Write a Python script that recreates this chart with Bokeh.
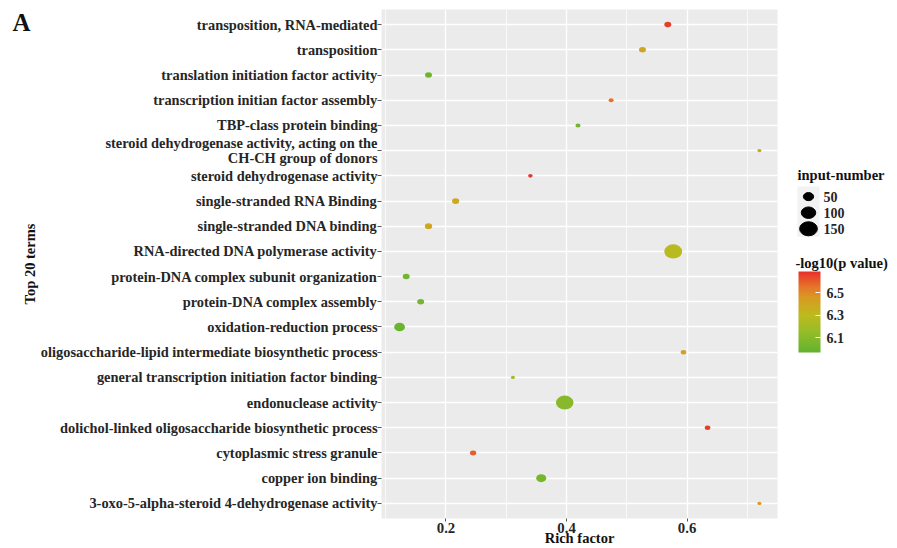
import numpy as np
from bokeh.plotting import figure
from bokeh.models import (ColumnDataSource, FactorRange, Range1d, FixedTicker,
                          LinearColorMapper, ColorBar, Label)
from bokeh.layouts import row
from bokeh.embed import file_html
from bokeh.resources import INLINE
from bokeh.core.properties import value

# ---------------- data (top to bottom as in the chart) ----------------
terms = [
    "transposition, RNA-mediated",
    "transposition",
    "translation initiation factor activity",
    "transcription initian factor assembly",
    "TBP-class protein binding",
    "steroid dehydrogenase activity, acting on the\nCH-CH group of donors",
    "steroid dehydrogenase activity",
    "single-stranded RNA Binding",
    "single-stranded DNA binding",
    "RNA-directed DNA polymerase activity",
    "protein-DNA complex subunit organization",
    "protein-DNA complex assembly",
    "oxidation-reduction process",
    "oligosaccharide-lipid intermediate biosynthetic process",
    "general transcription initiation factor binding",
    "endonuclease activity",
    "dolichol-linked oligosaccharide biosynthetic process",
    "cytoplasmic stress granule",
    "copper ion binding",
    "3-oxo-5-alpha-steroid 4-dehydrogenase activity",
]
rich_factor = [0.568, 0.526, 0.171, 0.474, 0.419, 0.720, 0.340, 0.216, 0.171, 0.577,
               0.134, 0.158, 0.123, 0.594, 0.311, 0.397, 0.634, 0.245, 0.358, 0.720]
input_number = [23, 23, 23, 12, 12, 8, 10, 25, 25, 152,
                23, 23, 56, 15, 8, 148, 15, 19, 48, 8]
neg_log10_p = [6.66, 6.40, 6.02, 6.56, 6.03, 6.42, 6.68, 6.38, 6.40, 6.28,
               6.03, 6.04, 6.00, 6.43, 6.18, 6.10, 6.66, 6.60, 6.04, 6.45]

x_ticks = [0.2, 0.4, 0.6]
x_minor_ticks = [0.1, 0.3, 0.5, 0.7]
size_breaks = [50, 100, 150]
size_labels = ["50", "100", "150"]
color_breaks = [6.1, 6.3, 6.5]
color_low, color_high = 5.97, 6.69

FONT = "Liberation Serif"
TEXT_COL = "#262626"

# ---------------- colour scale (green -> yellow -> red) ----------------
stops = [(0.00, (98, 178, 47)), (0.25, (150, 188, 40)), (0.46, (189, 186, 30)),
         (0.67, (216, 155, 34)), (0.81, (229, 118, 42)), (1.00, (232, 48, 42))]


def _interp(t):
    for (t0, c0), (t1, c1) in zip(stops[:-1], stops[1:]):
        if t <= t1:
            f = (t - t0) / (t1 - t0)
            return "#%02x%02x%02x" % tuple(int(round(a + (b - a) * f)) for a, b in zip(c0, c1))
    return "#%02x%02x%02x" % stops[-1][1]


palette = [_interp(i / 255) for i in range(256)]
mapper = LinearColorMapper(palette=palette, low=color_low, high=color_high)


def size_w(n):
    return [1.45 * np.sqrt(v) for v in n]


def size_h(n):
    return [1.15 * np.sqrt(v) for v in n]


src = ColumnDataSource(dict(term=terms, rich=rich_factor, n=input_number, p=neg_log10_p,
                            w=size_w(input_number), h=size_h(input_number)))

# ---------------- main panel ----------------
p = figure(width=782, height=548,
           x_range=Range1d(0.093, 0.750),
           y_range=FactorRange(factors=terms[::-1], range_padding=0.1,
                               range_padding_units="absolute"),
           output_backend="svg", toolbar_location=None,
           min_border_left=378, min_border_right=5, min_border_top=9, min_border_bottom=0)
p.background_fill_color = "#EBEBEB"
p.border_fill_color = "white"
p.outline_line_color = None

p.ellipse(x="rich", y="term", width="w", height="h", width_units="screen",
          height_units="screen", source=src, line_color=None,
          fill_color={"field": "p", "transform": mapper})

p.xaxis.ticker = FixedTicker(ticks=x_ticks, minor_ticks=x_minor_ticks)
p.xgrid.grid_line_color = "white"
p.xgrid.grid_line_width = 1.3
p.xgrid.minor_grid_line_color = "white"
p.xgrid.minor_grid_line_width = 0.7
p.ygrid.grid_line_color = "white"
p.ygrid.grid_line_width = 1.3

for ax in (p.xaxis[0], p.yaxis[0]):
    ax.axis_line_color = None
    ax.major_tick_line_color = "#555555"
    ax.major_tick_out = 4
    ax.major_tick_in = 0
    ax.minor_tick_line_color = None
    ax.major_label_text_font = FONT
    ax.major_label_text_font_style = "bold"
    ax.major_label_text_font_size = "14.4px"
    ax.major_label_text_color = TEXT_COL
    ax.major_label_text_line_height = 0.95
    ax.axis_label_text_font = FONT
    ax.axis_label_text_font_style = "bold"
    ax.axis_label_text_font_size = "14.5px"
    ax.axis_label_text_color = "#111111"

p.xaxis.axis_label = "Rich factor"
p.xaxis.major_label_text_font_size = "14.8px"
p.xaxis.major_label_standoff = 0
p.xaxis.axis_label_standoff = -6
p.xaxis.major_tick_out = 3
p.yaxis.axis_label = "Top 20 terms"
p.yaxis.major_label_standoff = 0
p.yaxis.axis_label_standoff = 0

p.add_layout(Label(x=12, y=496, x_units="screen", y_units="screen", text="A",
                   text_font=FONT, text_font_style="bold", text_font_size="25px",
                   text_baseline="middle", text_color="#111111"), "left")

# ---------------- legends ----------------
# (the legend figure's frame is aligned with the main frame)
leg = figure(width=115, height=548, x_range=Range1d(0, 115), y_range=Range1d(517, 11),
             x_axis_type=None, y_axis_type=None, output_backend="svg",
             toolbar_location=None, min_border=0)
leg.outline_line_color = None
leg.grid.visible = False

leg.text(x=[15], y=[176], text=["input-number"], text_font=value(FONT),
         text_font_style="bold", text_font_size="14.5px", text_baseline="middle",
         text_color="#111111")
leg.quad(left=[15], right=[37], top=[187], bottom=[237], fill_color="#F2F2F2", line_color=None)
key_y = [197, 213, 229]
leg.ellipse(x=[26] * 3, y=key_y, width=size_w(size_breaks), height=size_h(size_breaks),
            width_units="screen", height_units="screen", color="black")
leg.text(x=[41] * 3, y=key_y, text=size_labels, text_font=value(FONT),
         text_font_style="bold", text_font_size="14px", text_baseline="middle",
         text_color=TEXT_COL)
leg.text(x=[13], y=[263], text=["-log10(p value)"], text_font=value(FONT),
         text_font_style="bold", text_font_size="14.5px", text_baseline="middle",
         text_color="#111111")

cb = ColorBar(color_mapper=mapper, width=22, height=81, padding=0,
              location=(16, 166),
              ticker=FixedTicker(ticks=color_breaks),
              major_label_text_font=FONT, major_label_text_font_style="bold",
              major_label_text_font_size="14px", major_label_text_color=TEXT_COL,
              major_tick_line_color="white", major_tick_in=5, major_tick_out=0,
              label_standoff=6, bar_line_color=None, border_line_color=None,
              background_fill_alpha=0)
leg.add_layout(cb)

layout = row(p, leg)
open("out.html", "w").write(file_html(layout, INLINE))
